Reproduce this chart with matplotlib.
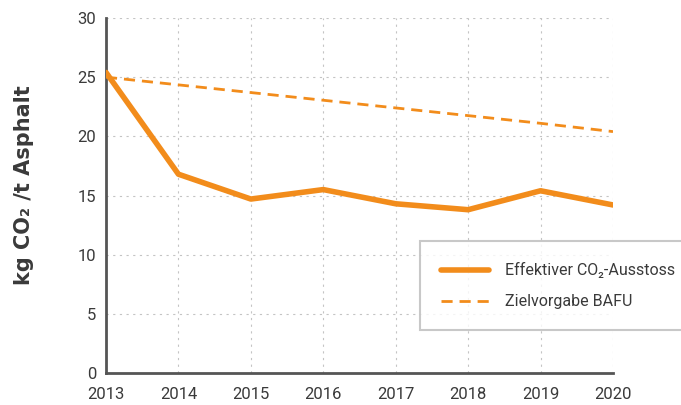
import matplotlib
matplotlib.use("Agg")
import matplotlib.pyplot as plt

plt.rcParams['font.family'] = ['Roboto', 'DejaVu Sans']

years = [2013, 2014, 2015, 2016, 2017, 2018, 2019, 2020]
effektiv = [25.4, 16.8, 14.7, 15.5, 14.3, 13.8, 15.4, 14.2]
ziel = [25.0, 24.35, 23.7, 23.05, 22.4, 21.75, 21.1, 20.4]
yticks = [0, 5, 10, 15, 20, 25, 30]

orange = '#f28c1b'
dark = '#555555'
txt = '#3a3a3a'

fig = plt.figure(figsize=(6.81, 4.05), dpi=100)
ax = fig.add_axes([106/681, 1-373/405, (613-106)/681, (373-18)/405])

ax.plot(years, effektiv, color=orange, lw=4, solid_capstyle='round',
        solid_joinstyle='round', label='Effektiver CO\u2082-Ausstoss', zorder=3)
ax.plot(years, ziel, color=orange, lw=2, ls=(0, (4, 2.5)),
        label='Zielvorgabe BAFU', zorder=3)

ax.set_xlim(2013, 2020)
ax.set_ylim(0, 30)
ax.set_xticks(years)
ax.set_yticks(yticks)
ax.grid(True, color='#c4c4c4', ls=(0, (2, 4)), lw=0.8)
for s in ['top', 'right']:
    ax.spines[s].set_visible(False)
for s in ['left', 'bottom']:
    ax.spines[s].set_color(dark)
    ax.spines[s].set_linewidth(2)
ax.tick_params(length=0, labelsize=12, colors=txt, pad=10)
ax.tick_params(axis='y', pad=7)

fig.text(24/681, 1-185/405, 'kg CO\u2082 /t Asphalt', rotation=90, fontsize=15,
         fontweight='bold', color=txt, ha='center', va='center',
         family='DejaVu Sans')

leg = ax.legend(loc='lower left', bbox_to_anchor=(420/681, 1-330/405, 280/681, 87/405),
                bbox_transform=fig.transFigure, mode='expand', frameon=True,
                fancybox=False, edgecolor='#bbbbbb', fontsize=11.5,
                labelcolor=txt, handlelength=3.0, borderpad=1.3,
                labelspacing=1.0, handletextpad=1.0, borderaxespad=0)
leg.get_frame().set_linewidth(1.5)

fig.savefig('out.png', dpi=100, facecolor='white')
